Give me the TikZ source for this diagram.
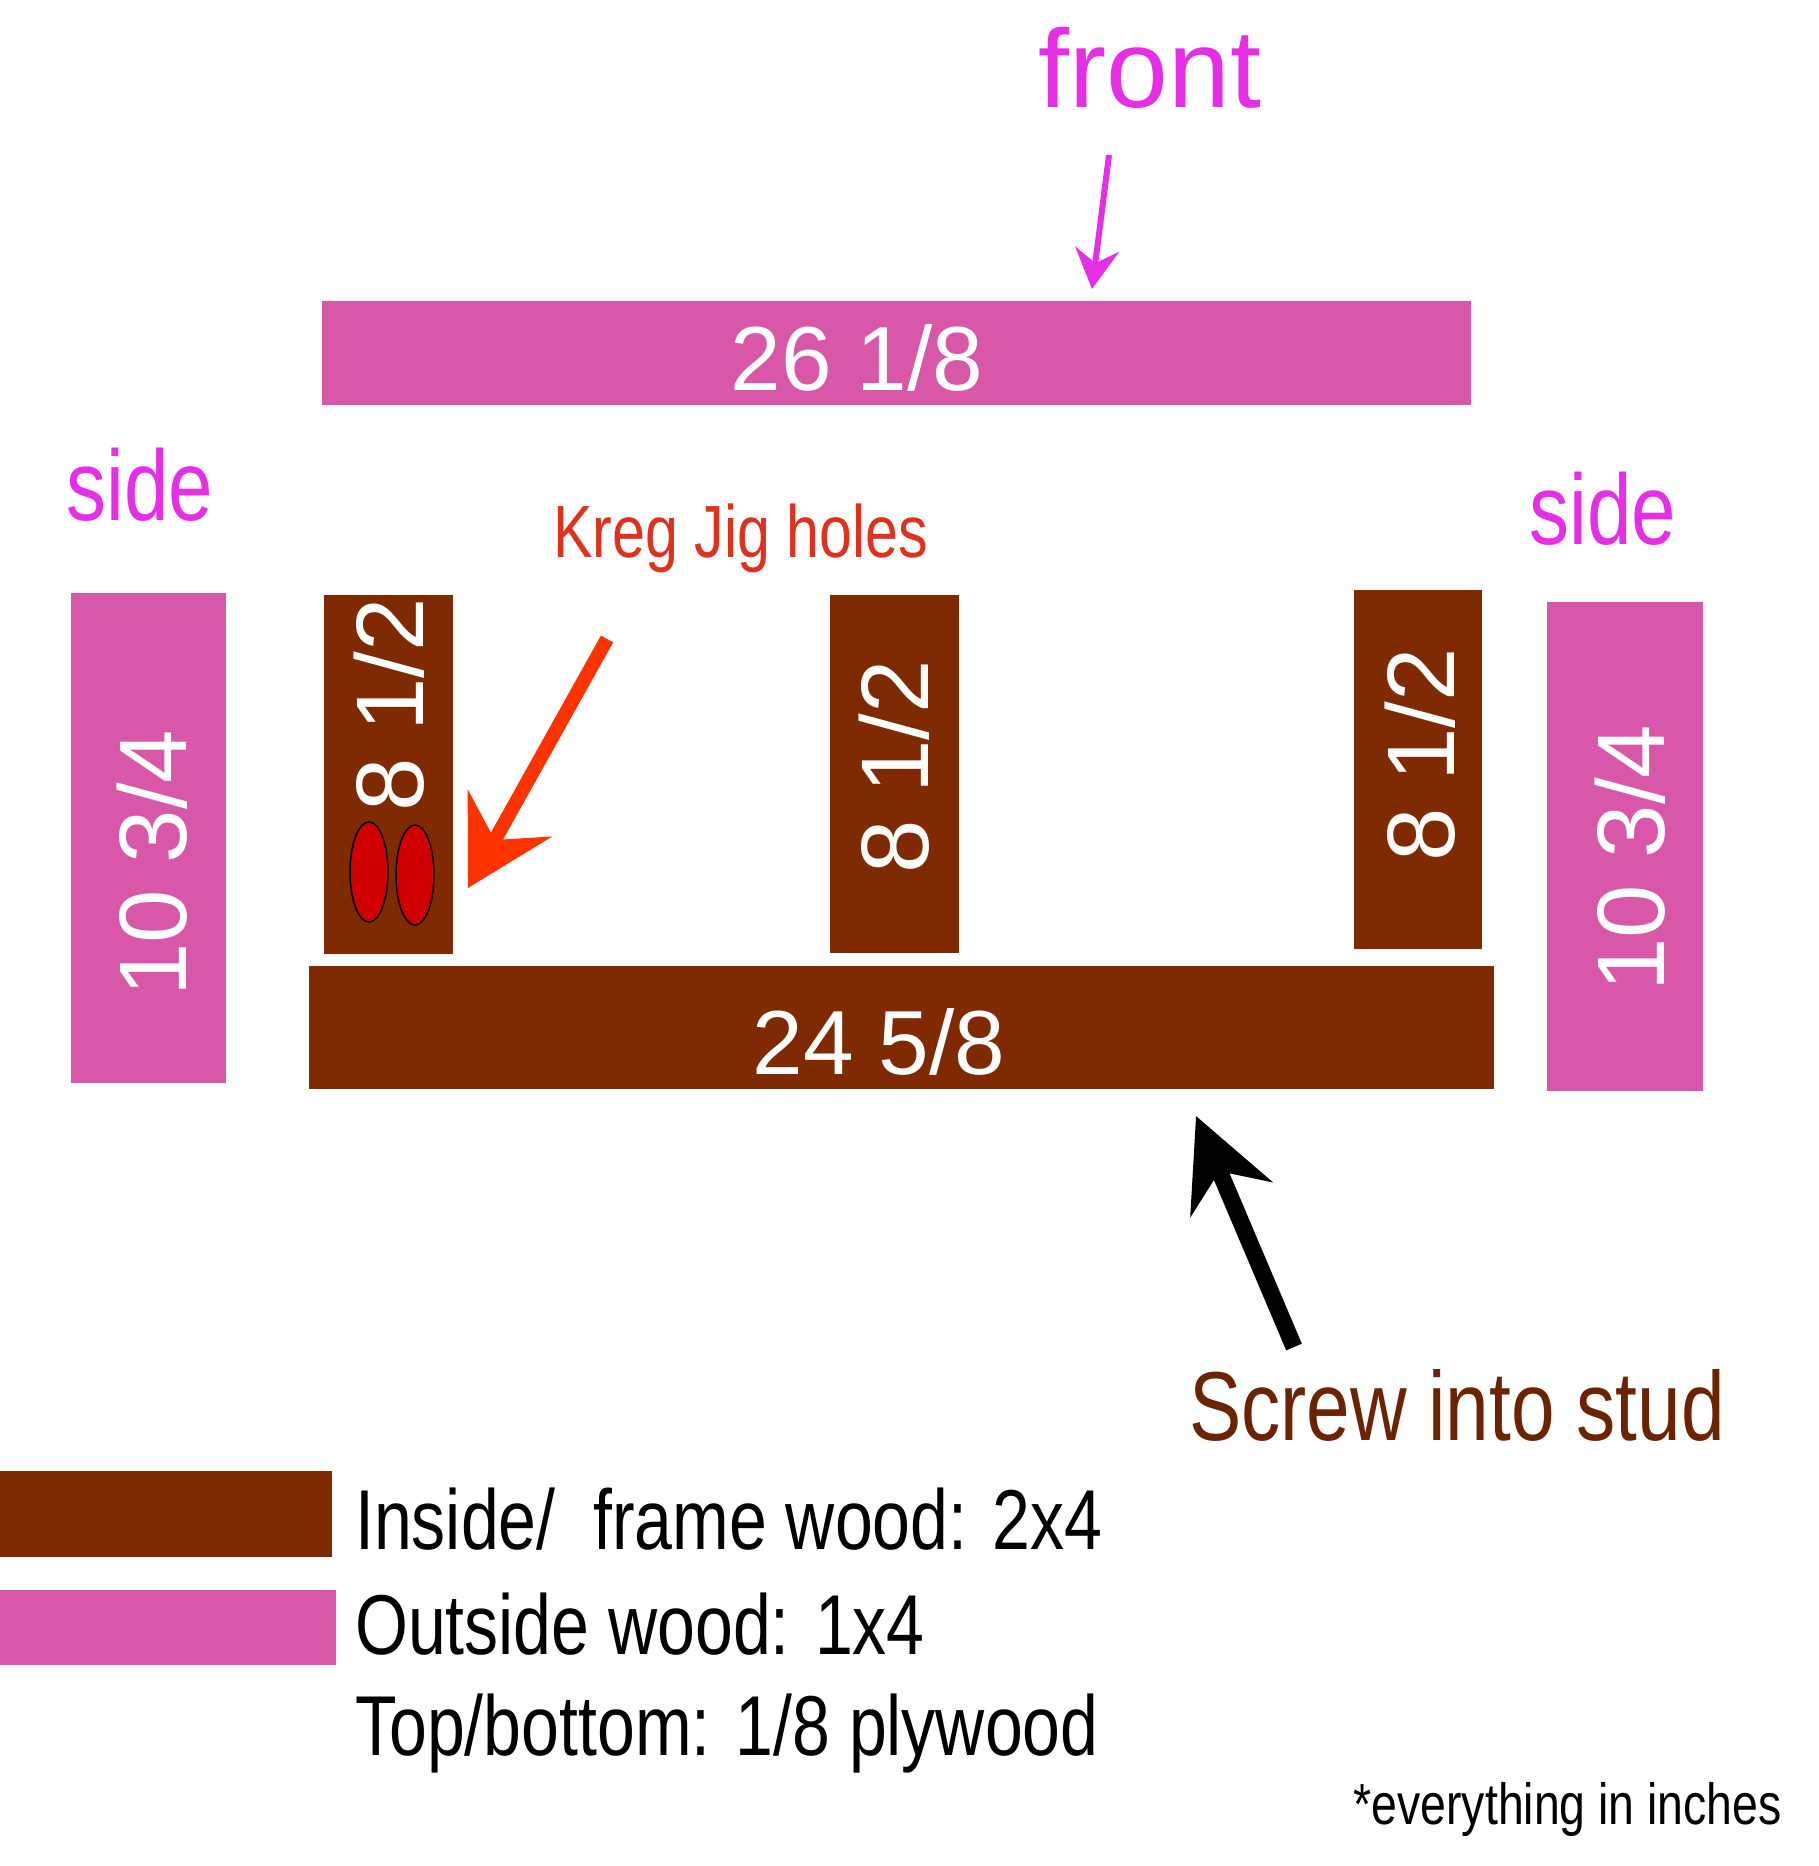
\documentclass[tikz,border=0pt]{standalone}
\usepackage{fontspec}
\setmainfont{Liberation Sans}
\newfontfamily\handn{Liberation Sans}
\newfontfamily\hand[FakeStretch=0.8]{Liberation Sans}
\usetikzlibrary{arrows.meta,shapes.geometric}
\definecolor{pinkwood}{HTML}{D957A8}
\definecolor{brownwood}{HTML}{7F2A00}
\definecolor{mag}{HTML}{E62EE6}
\definecolor{kreg}{HTML}{E0301E}
\definecolor{redarrow}{HTML}{FF3300}
\definecolor{holes}{HTML}{D00000}
\definecolor{studtext}{HTML}{6B2300}
\begin{document}
\begin{tikzpicture}[x=1pt,y=-1pt,
  board/.style={rectangle,inner sep=0pt,outer sep=0pt,draw=none},
  outside/.style={board,fill=pinkwood},
  inside/.style={board,fill=brownwood},
  dimtext/.style={inner sep=0pt,text=white,font={\handn\fontsize{91}{100}\selectfont}},
  vdimtext/.style={inner sep=0pt,text=white,rotate=90,font={\handn\fontsize{96}{100}\selectfont}},
  hole/.style={ellipse,draw=black,line width=1.5pt,fill=holes,minimum width=38pt,minimum height=100pt,inner sep=0pt},
  legendtext/.style={inner sep=0pt,anchor=base west,font={\hand\fontsize{85}{90}\selectfont}}
]
\useasboundingbox (0,0) rectangle (1818,1866);
\fill[white] (0,0) rectangle (1818,1866);

% front board
\node[outside,minimum width=1149pt,minimum height=104pt] (front) at (896.5,353) {};
\node[dimtext,anchor=base] (fronttxt) at (857,390) {26 1/8};
\node[inner sep=0pt,anchor=base,text=mag,font={\handn\fontsize{111}{120}\selectfont}] (frontlbl) at (1150,107) {front};
\coordinate (frontstart) at (1109,155);
\coordinate (fronttip) at (1092,289);
\draw[mag,line width=6pt,-{Stealth[length=40pt,width=44pt,inset=14pt]}] (frontstart) -- (fronttip);

% sides
\node[outside,minimum width=155pt,minimum height=490pt] (lside) at (148.5,838) {};
\node[outside,minimum width=156pt,minimum height=489pt] (rside) at (1625,846.5) {};
\node[inner sep=0pt,anchor=base,text=mag,font={\hand\fontsize{100}{100}\selectfont}] (lsidelbl) at (140,520) {side};
\node[inner sep=0pt,anchor=base,text=mag,font={\hand\fontsize{100}{100}\selectfont}] (rsidelbl) at (1603,544) {side};
\node[vdimtext] (lsidetxt) at (152,863) {10 3/4};
\node[vdimtext] (rsidetxt) at (1630,858) {10 3/4};

% posts
\node[inside,minimum width=129pt,minimum height=359pt] (post1) at (388.5,774.5) {};
\node[inside,minimum width=129pt,minimum height=358pt] (post2) at (894.5,774) {};
\node[inside,minimum width=128pt,minimum height=359pt] (post3) at (1418,769.5) {};
\node[vdimtext] (post1txt) at (389,705) {8 1/2};
\node[vdimtext] (post2txt) at (894,767) {8 1/2};
\node[vdimtext] (post3txt) at (1420,755) {8 1/2};

% holes
\node[hole] (hole1) at (369,872) {};
\node[hole] (hole2) at (415,875) {};

% bottom board
\node[inside,minimum width=1185pt,minimum height=123pt] (bottom) at (901.5,1027.5) {};
\node[dimtext,anchor=base] (bottomtxt) at (879,1074) {24 5/8};

% Kreg label and arrow
\node[inner sep=0pt,anchor=base,text=kreg,font={\hand\fontsize{74}{80}\selectfont}] (kreglbl) at (741,557) {Kreg Jig holes};
\coordinate (kregstart) at (607,639);
\coordinate (kregtip) at (468,888);
\draw[redarrow,line width=14pt,-{Stealth[length=85pt,width=95pt,inset=30pt]}] (kregstart) -- (kregtip);

% screw label and arrow
\node[inner sep=0pt,anchor=base,text=studtext,font={\hand\fontsize{98}{100}\selectfont}] (screwlbl) at (1457,1440) {Screw into stud};
\coordinate (screwstart) at (1294,1347);
\coordinate (screwtip) at (1196,1116);
\draw[black,line width=17pt,-{Stealth[length=90pt,width=88pt,inset=30pt]}] (screwstart) -- (screwtip);

% legend
\node[inside,minimum width=332pt,minimum height=86pt] (leginside) at (166,1514) {};
\node[outside,minimum width=336pt,minimum height=75pt] (legoutside) at (168,1627.5) {};
\node[legendtext] (leg1) at (355,1549) {Inside/\ \ frame wood: 2x4};
\node[legendtext] (leg2) at (355,1654) {Outside wood: 1x4};
\node[legendtext] (leg3) at (355,1755) {Top/bottom: 1/8 plywood};
\node[inner sep=0pt,anchor=base east,font={\hand\fontsize{58}{60}\selectfont}] (note) at (1782,1824) {*everything in inches};
\end{tikzpicture}
\end{document}
